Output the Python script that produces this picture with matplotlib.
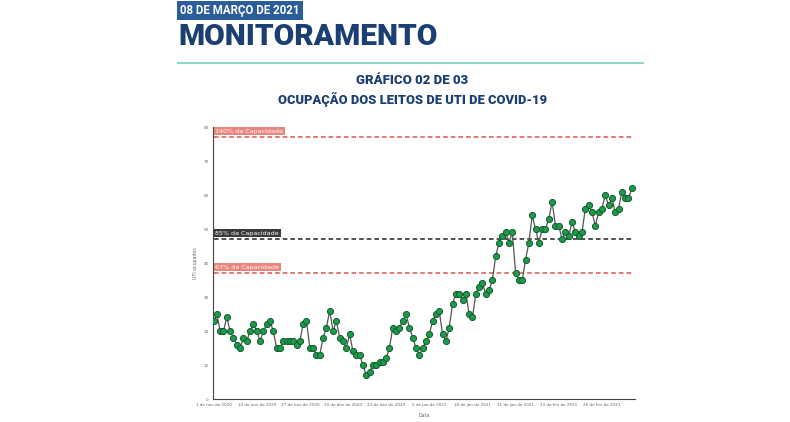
import matplotlib.pyplot as plt
import pandas as pd

# leitos de UTI ocupados por dia, 01/11/2020 a 07/03/2021
ocupados = [23, 25, 20, 20, 24, 20, 18, 16, 15, 18,
            17, 20, 22, 20, 17, 20, 22, 23, 20, 15,
            15, 17, 17, 17, 17, 16, 17, 22, 23, 15,
            15, 13, 13, 18, 21, 26, 20, 23, 18, 17,
            15, 19, 14, 13, 13, 10, 7, 8, 10, 10,
            11, 11, 12, 15, 21, 20, 21, 23, 25, 21,
            18, 15, 13, 15, 17, 19, 23, 25, 26, 19,
            17, 21, 28, 31, 31, 29, 31, 25, 24, 31,
            33, 34, 31, 32, 35, 42, 46, 48, 49, 46,
            49, 37, 35, 35, 41, 46, 54, 50, 46, 50,
            50, 53, 58, 51, 51, 47, 49, 48, 52, 49,
            48, 49, 56, 57, 55, 51, 55, 56, 60, 57,
            59, 55, 56, 61, 59, 59, 62]
datas = pd.date_range('2020-11-01', periods=len(ocupados), freq='D')

niveis = [77, 47, 37]
niveis_txt = ['140% da Capacidade', '85% da Capacidade', '67% da Capacidade']
niveis_cor = ['#d9534f', '#222222', '#d9534f']
niveis_fundo = ['#e8857c', '#3a3a3a', '#e8857c']

ticks_x = pd.date_range('2020-11-01', periods=10, freq='13D')
ticks_x_txt = ['1 de nov de 2020', '14 de nov de 2020', '27 de nov de 2020',
               '10 de dez de 2020', '23 de dez de 2020', '5 de jan de 2021',
               '18 de jan de 2021', '31 de jan de 2021', '13 de fev de 2021',
               '26 de fev de 2021']

azul = '#1b3f73'

fig = plt.figure(figsize=(7.9, 4.22), dpi=100)
fig.patch.set_facecolor('white')

# cabecalho
fig.text(0.228, 0.975, '08 DE MARÇO DE 2021', fontsize=8.3, fontweight='bold',
         color='white', family='Roboto', va='center', ha='left',
         bbox=dict(boxstyle='square,pad=0.25', fc='#2b5c9c', ec='none'))
fig.text(0.226, 0.912, 'MONITORAMENTO', fontsize=21.5, fontweight='black',
         color=azul, family='Roboto', va='center', ha='left')
fig.add_artist(plt.Line2D([0.225, 0.814], [0.851, 0.851], color='#8fd6cc', lw=1.5))
fig.text(0.522, 0.81, 'GRÁFICO 02 DE 03', fontsize=9.5, fontweight='black',
         color=azul, family='Roboto', ha='center', va='center')
fig.text(0.522, 0.765, 'OCUPAÇÃO DOS LEITOS DE UTI DE COVID-19', fontsize=9.3,
         fontweight='black', color=azul, family='Roboto', ha='center', va='center')

ax = fig.add_axes([0.2696, 0.0545, 0.534, 0.6445])
ax.plot(datas, ocupados, color='#555555', lw=0.9, marker='o', markersize=4.4,
        markerfacecolor='#1f9a4a', markeredgecolor='#0d5c2c', markeredgewidth=0.7,
        zorder=3)

for nivel, txt, cor, fundo in zip(niveis, niveis_txt, niveis_cor, niveis_fundo):
    ax.plot([datas[0], datas[-1]], [nivel, nivel], color=cor, lw=1.1,
            linestyle=(0, (3, 2)), zorder=2)
    ax.text(datas[0] + pd.Timedelta(hours=12), nivel + 1.0, txt, fontsize=4.6,
            color='white', va='bottom', ha='left',
            bbox=dict(boxstyle='square,pad=0.25', fc=fundo, ec='none'))

ax.set_xlim(datas[0] - pd.Timedelta(hours=4), datas[-1] + pd.Timedelta(hours=22))
ax.set_ylim(0, 80)
ax.set_yticks(range(0, 81, 10))
ax.set_xticks(ticks_x)
ax.set_xticklabels(ticks_x_txt)
ax.tick_params(labelsize=3.0, colors='#666666', length=0, pad=3)
for s in ['top', 'right']:
    ax.spines[s].set_visible(False)
ax.spines['left'].set_color('#444444')
ax.spines['bottom'].set_color('#444444')
ax.spines['left'].set_linewidth(0.8)
ax.spines['bottom'].set_linewidth(0.8)
ax.set_ylabel('UTI ocupados', fontsize=3.4, color='#666666', labelpad=4)
ax.set_xlabel('Data', fontsize=3.4, color='#666666', labelpad=4)

fig.savefig('out.png', dpi=100, facecolor='white')
